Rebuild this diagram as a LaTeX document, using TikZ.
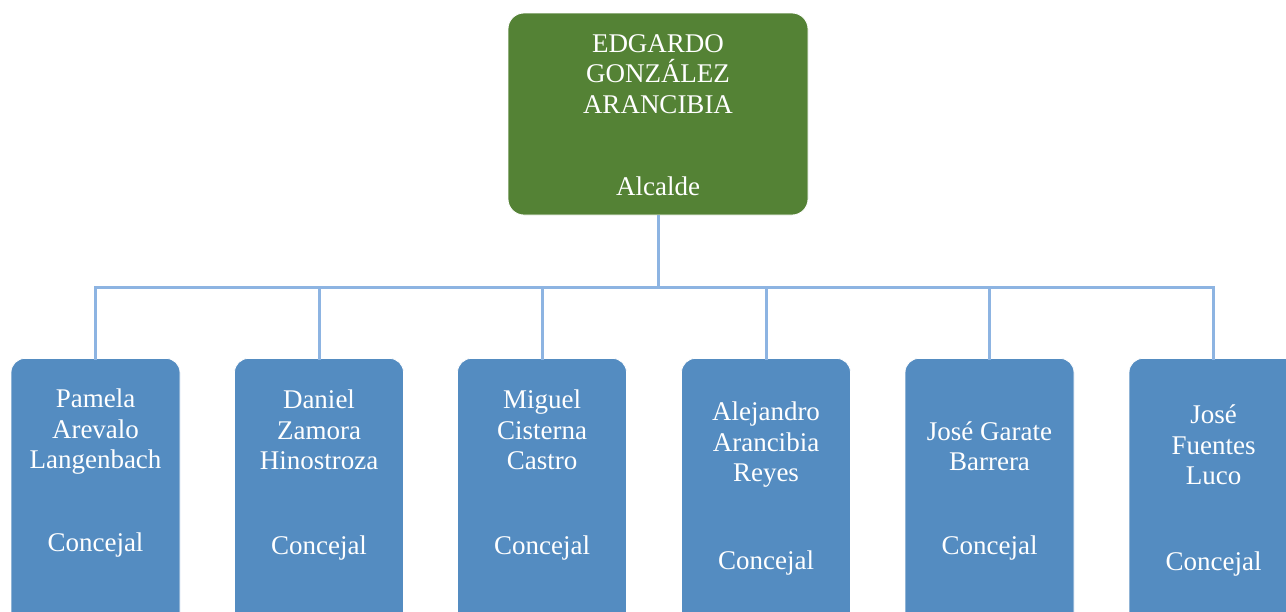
\documentclass[tikz,border=0pt]{standalone}
\usepackage{fontspec}
\setmainfont{Liberation Serif}
\usepackage{xcolor}
\usetikzlibrary{positioning}

\definecolor{alcgreen}{HTML}{548235}
\definecolor{conblue}{HTML}{548CC1}
\definecolor{linkblue}{HTML}{8DB4E2}

\begin{document}
\begin{tikzpicture}[x=1pt,y=-1pt]
\tikzstyle{every node}+=[inner sep=0pt, text=white, align=center, font=\fontsize{27}{30.5}\selectfont]
\tikzstyle{alcbox}=[rectangle, rounded corners=16pt, fill=alcgreen, draw=white, line width=0.8pt, minimum width=300pt, minimum height=202pt]
\tikzstyle{conbox}=[rectangle, rounded corners=14pt, fill=conblue, draw=white, line width=0.8pt, minimum width=169pt, minimum height=280pt, anchor=north]
\tikzstyle{link}=[draw=linkblue, line width=3pt]
\useasboundingbox (0,0) rectangle (1286,611);
\clip (0,0) rectangle (1286,611);
% alcalde
\node [alcbox] (alc) at (658,114) {};
\node (alcn) at (658,74) {EDGARDO\\GONZÁLEZ\\ARANCIBIA};
\node (alcr) at (658,186) {Alcalde};
% concejales
\node [conbox] (c1) at (95.5,358) {};
\node [conbox] (c2) at (319,358) {};
\node [conbox] (c3) at (542,358) {};
\node [conbox] (c4) at (766,358) {};
\node [conbox] (c5) at (989.5,358) {};
\node [conbox] (c6) at (1213.5,358) {};
\node (c1n) at (95.5,432) {Pamela\\Arevalo\\Langenbach};
\node (c1r) at (95.5,545) {Concejal};
\node (c2n) at (319,430) {Daniel\\Zamora\\Hinostroza};
\node (c2r) at (319,548) {Concejal};
\node (c3n) at (542,430) {Miguel\\Cisterna\\Castro};
\node (c3r) at (542,548) {Concejal};
\node (c4n) at (766,445) {Alejandro\\Arancibia\\Reyes};
\node (c4r) at (766,563) {Concejal};
\node (c5n) at (989.5,446) {José Garate\\Barrera};
\node (c5r) at (989.5,548) {Concejal};
\node (c6n) at (1213.5,445) {José\\Fuentes\\Luco};
\node (c6r) at (1213.5,564) {Concejal};
% lineas
\coordinate (bus) at (658,287);
\draw [link] (alc.south) -- (bus);
\draw [link] (bus) -| ([yshift=-2pt]c1.north);
\draw [link] (bus) -| ([yshift=-2pt]c2.north);
\draw [link] (bus) -| ([yshift=-2pt]c3.north);
\draw [link] (bus) -| ([yshift=-2pt]c4.north);
\draw [link] (bus) -| ([yshift=-2pt]c5.north);
\draw [link] (bus) -| ([yshift=-2pt]c6.north);
\end{tikzpicture}
\end{document}
